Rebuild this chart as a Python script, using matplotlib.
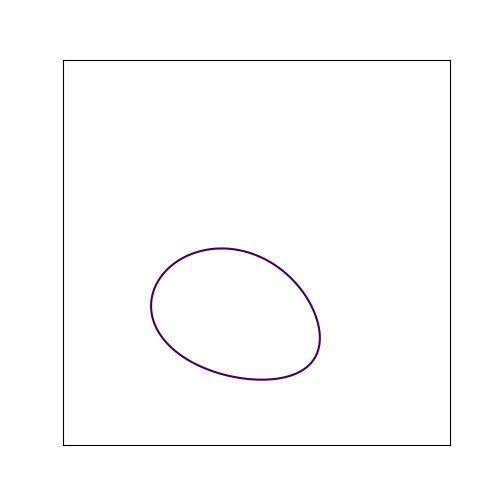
import numpy as np
from matplotlib import pyplot as plt

# egg-shaped closed curve (axes fraction units)
center = [0.43, 0.348]
quad_coef = [0.625, 0.15, 1.0]   # A, B, C in A*x^2 + 2B*x*y + C*y^2
skew = 0.25                        # cubic term along the lower-right direction
level = [0.0272]

x = np.linspace(0, 1, 400)
y = np.linspace(0, 1, 400)
X, Y = np.meshgrid(x, y)
dx = X - center[0]
dy = Y - center[1]
A, B, C = quad_coef
Z = A * dx**2 + 2 * B * dx * dy + C * dy**2 - skew * (dx - dy)**3

fig, ax = plt.subplots(figsize=(5, 5), dpi=100)
ax.contour(X, Y, Z, levels=level, cmap='viridis')
ax.set_xlim(0, 1)
ax.set_ylim(0, 1)
ax.set_xticks([])
ax.set_yticks([])
plt.savefig('out.png')
